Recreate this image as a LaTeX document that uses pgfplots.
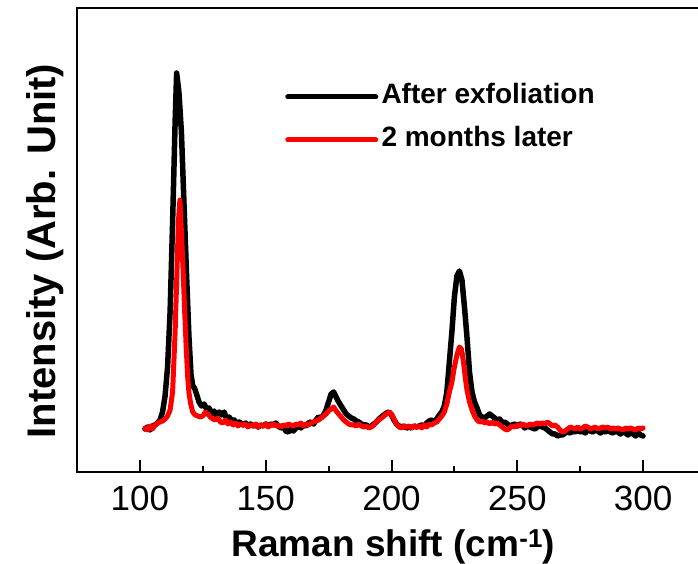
\documentclass[border=0pt]{standalone}
\usepackage{fontspec}
\setmainfont{Liberation Sans}
\usepackage{pgfplots}
\pgfplotsset{compat=1.18}
\usepackage{pgfplotstable}

\pgfplotstableread{
x y
102 43
103 45
104 42
105 46
106 47
107 49
108 52
109 60
110 76
111 105
112 160
113 250
114 350
114.6 399
115.5 380
116.5 340
117.5 270
118.5 200
119.5 135
120.3 98
121 86
121.7 84
122.5 78
123.5 70
124.5 66
125.5 68
126.5 63
127.5 64
128.5 58
129.5 61
130.5 56
131.5 60
132.5 57
133.5 60
134.5 53
135.5 55
136.5 51
137.5 52
138.5 48
139.5 50
141 47
142 49
143 46
144 48
145 46
146 47
147 45
148 47
149 46
150 48
151 46
152 48
153 47
154 49
155 46
156 44
157 45
158 41
159 40
160 43
161 41
162 44
163 46
164 44
165 47
166 46
167 49
168 50
169 48
170 52
171 55
172 54
173 57
174 62
175 70
176 78
177 80
178 75
179 70
180 66
181 62
182 58
183 56
184 54
185 53
186 51
187 50
188 48
189 47
190 47
191 45
192 46
193 48
194 50
195 53
196 55
197 57
198 59
199 60
200 57
201 52
202 48
203 46
204 45
205 46
206 44
207 45
208 44
209 46
210 45
211 46
212 47
213 46
214 49
215 51
216 52
217 50
218 53
219 57
220 60
221 66
222 80
223 110
224 140
225 175
226 196
227 201
228 192
229 165
230 135
231 100
232 80
233 70
234 64
235 57
236 55
237 54
238 56
239 58
240 56
241 54
242 52
243 53
244 49
245 50
246 48
247 46
248 47
249 48
250 46
251 48
252 47
253 44
254 46
255 45
256 44
257 43
258 45
259 46
260 45
261 44
262 42
263 40
264 38
265 38
266 36
267 37
268 37
269 39
270 40
271 39
272 41
273 40
274 42
275 40
276 41
277 39
278 42
279 41
280 40
281 42
282 41
283 39
284 41
285 40
286 42
287 40
288 39
289 41
290 40
291 38
292 40
293 39
294 37
295 40
296 38
297 36
298 39
299 37
300 36
}\blackdata

\pgfplotstableread{
x y
102 44
103 42
104 46
105 43
106 47
107 49
108 50
109 51
110 53
111 56
112 62
113 80
114 140
114.6 190
115.3 250
115.9 272
116.5 240
117.2 200
117.8 160
118.4 125
119 95
119.5 79
120.2 68
121 60
122 57
123 56
124 55
125 56
126 60
127 58
128 55
129 53
130 52
131 54
132 50
133 49
134 52
135 48
136 50
137 47
138 49
139 46
140 48
141 47
142 48
143 45
144 47
145 46
146 48
147 45
148 47
149 46
150 48
151 45
152 47
153 48
154 46
155 47
156 45
157 47
158 46
159 48
160 47
161 46
162 48
163 47
164 49
165 46
166 48
167 47
168 49
169 50
170 51
171 52
172 54
173 56
174 58
175 61
176 63
177 65
178 61
179 58
180 55
181 52
182 50
183 48
184 47
185 47
186 46
187 48
188 46
189 45
190 46
191 44
192 45
193 47
194 50
195 52
196 54
197 56
198 58
199 60
200 58
201 53
202 48
203 45
204 44
205 46
206 45
207 46
208 44
209 46
210 45
211 46
212 44
213 47
214 45
215 48
216 47
217 49
218 50
219 53
220 56
221 60
222 68
223 80
224 90
225 105
226 117
227 125
227.8 123
228.5 112
229.3 95
230 82
231 70
232 62
233 56
234 52
235 50
236 51
237 49
238 50
239 48
240 50
241 48
242 49
243 47
244 45
245 43
246 42
247 44
248 46
249 45
250 47
251 46
252 48
253 47
254 46
255 48
256 47
257 48
258 49
259 48
260 49
261 48
262 50
263 48
264 46
265 47
266 45
267 42
268 40
269 41
270 43
271 45
272 44
273 43
274 45
275 43
276 44
277 46
278 45
279 43
280 44
281 45
282 43
283 44
284 45
285 44
286 45
287 43
288 44
289 43
290 44
291 43
292 42
293 44
294 43
295 44
296 43
297 42
298 44
299 43
300 44
}\reddata

\begin{document}
\begin{tikzpicture}
\begin{axis}[
  scale only axis,
  width=629pt, height=464pt,
  xmin=75, xmax=325,
  ymin=0, ymax=464,
  axis line style={line width=2.6pt},
  xtick={100,150,200,250,300},
  minor xtick={125,175,225,275},
  ytick=\empty,
  xtick pos=bottom,
  tick align=inside,
  major tick length=12pt,
  minor tick length=6pt,
  every tick/.style={line width=2pt, black},
  /pgf/number format/assume math mode=true,
  tick label style={font=\fontsize{35}{40}\selectfont},
  xticklabel style={anchor=center, yshift=-26pt},
  xlabel={\bfseries Raman shift (cm\textsuperscript{-1})},
  xlabel style={font=\fontsize{37}{42}\selectfont, at={(axis description cs:0.503,-0.162)}, anchor=center},
  ylabel={\bfseries Intensity (Arb. Unit)},
  ylabel style={font=\fontsize{40}{44}\selectfont, at={(axis description cs:-0.0509,0.476)}, anchor=center, rotate=0},
  legend style={draw=none, fill=none, at={(axis description cs:0.326,0.762)}, anchor=west,
    font=\fontsize{28}{32}\selectfont\bfseries,
    nodes={inner sep=0pt, text height=20pt, text depth=6pt},
    row sep=17pt},
  legend cell align=left,
  legend image code/.code={\draw[#1, line width=5pt] (0pt,0pt) -- (88pt,0pt);\path (91pt,0pt);},
]
\addplot[black, line width=5.5pt, line join=round, line cap=round] table[x=x,y=y] {\blackdata};
\addlegendentry{After exfoliation}
\addplot[red, line width=5pt, line join=round, line cap=round] table[x=x,y=y] {\reddata};
\addlegendentry{2 months later}
\end{axis}
\pgfresetboundingbox
\path[use as bounding box] (-77pt,-92pt) rectangle (621pt,472pt);
\end{tikzpicture}
\end{document}
